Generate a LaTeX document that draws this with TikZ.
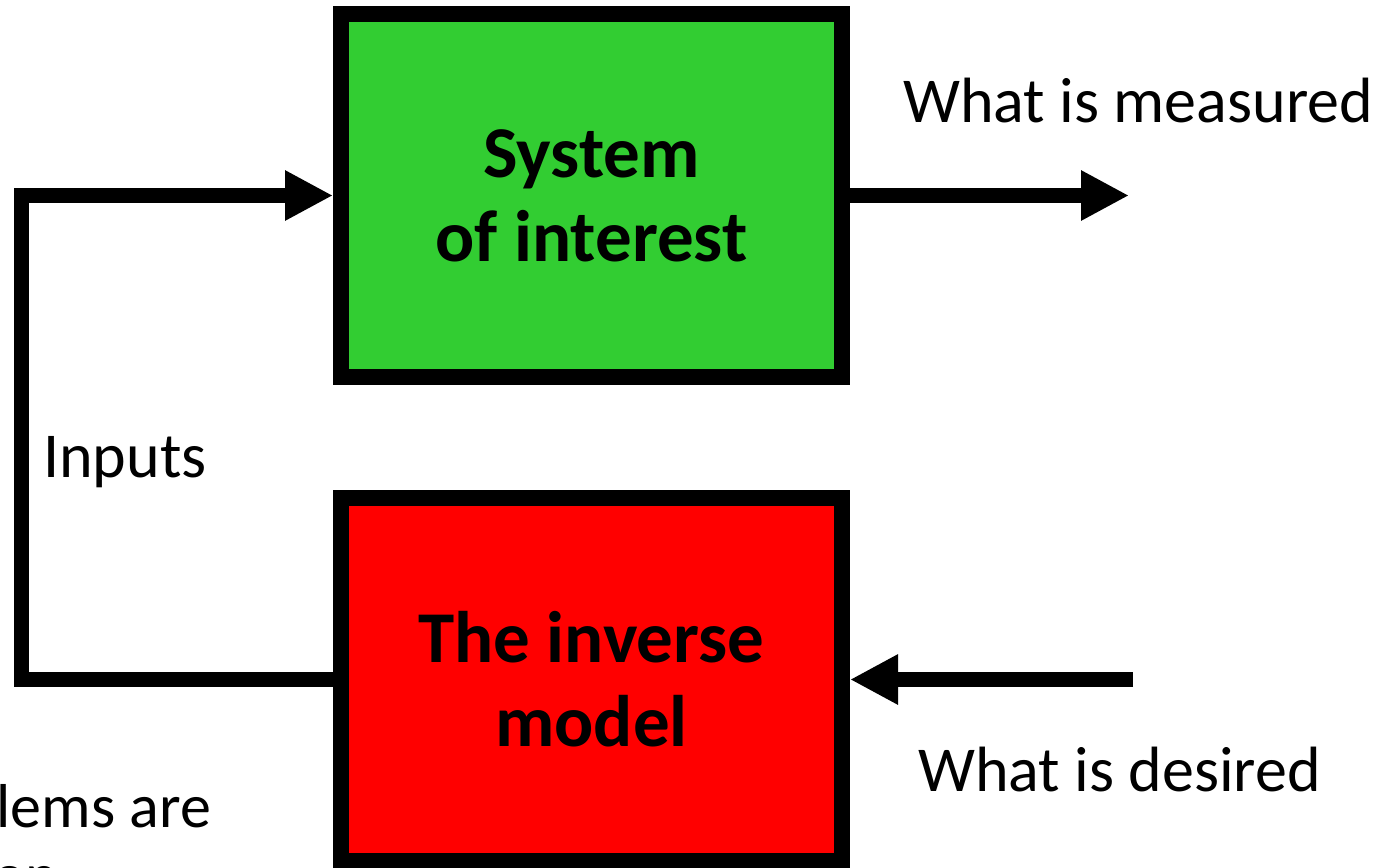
\documentclass[tikz,border=0pt]{standalone}
\usepackage{fontspec}
\setmainfont{Carlito}
\usetikzlibrary{arrows.meta, positioning}
\definecolor{sysgreen}{RGB}{50,205,50}

\begin{document}
\begin{tikzpicture}[
        x=1pt, y=-1pt,
        block/.style={rectangle, draw=black, line width=16pt, minimum width=501pt, minimum height=363pt, inner sep=0pt, align=center, font=\fontsize{73}{84}\selectfont\bfseries},
        lbl/.style={inner sep=0pt, font=\fontsize{64}{77}\selectfont},
        arrow/.style={line width=15pt, line join=miter, -{Triangle[length=48pt, width=47pt]}}
    ]
        \useasboundingbox (0,0) rectangle (1383,867);
        \clip (0,0) rectangle (1383,867);

        % Nodes
        \node (sys) [block, fill=sysgreen] at (591.5,195.5) {System\\of interest};
        \node (inv) [block, fill=red, below=105pt of sys] {The inverse\\model};

        \node (measured) [lbl, anchor=base west] at (903,122) {What is measured};
        \node (desired) [lbl, anchor=base west] at (918,791) {What is desired};
        \node (inputs) [lbl, anchor=base west] at (43,477) {Inputs};
        \node (note) [lbl, font=\fontsize{62}{69}\selectfont, align=center, anchor=north east] at (211,784) {Inverse problems are\\common};

        \coordinate (measTip) at (1129,195.5);
        \coordinate (desTail) at (1133,679.5);
        \coordinate (fbCorner) at (21,679.5);

        % Arrows
        \draw [arrow] (sys.east) -- (measTip);
        \draw [arrow] (desTail) -- (inv.east);
        \draw [arrow] (inv.west) -- (fbCorner) |- (sys.west);
    \end{tikzpicture}
\end{document}
